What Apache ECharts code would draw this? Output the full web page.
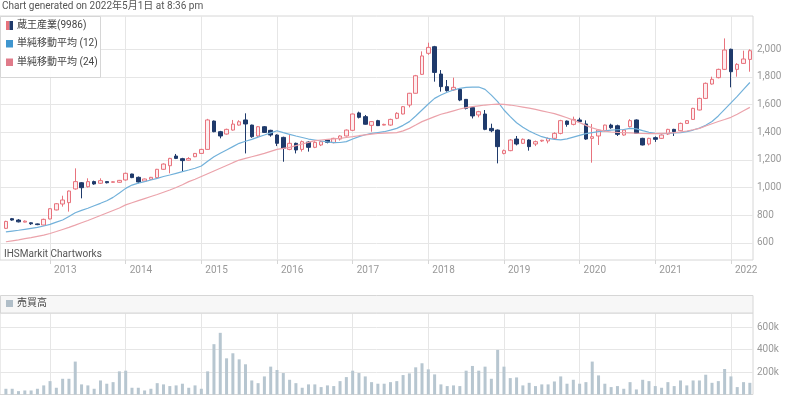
<!DOCTYPE html>
<html><head><meta charset="utf-8">
<script src="https://cdn.jsdelivr.net/npm/echarts@6/dist/echarts.min.js"></script>
<style>html,body{margin:0;padding:0;background:#fff}#c{width:800px;height:396px}</style>
</head><body><div id="c"></div>
<script>
// ---- categories (monthly, 2012/06 .. 2022/04) ----
const startYear = 2012, startMonth = 6, monthCount = 119;
const months = [];
for (let k = 0; k < monthCount; k++) {
  const m = startMonth - 1 + k;
  months.push((startYear + Math.floor(m / 12)) + '/' + String(m % 12 + 1).padStart(2, '0'));
}
const yearLabels = ['2013','2014','2015','2016','2017','2018','2019','2020','2021','2022'];
const priceTicks = [600, 800, 1000, 1200, 1400, 1600, 1800, 2000];
const volumeTicks = [200000, 400000, 600000];

// ---- OHLC ----
const opens = [705,775,765,750,745,737,729,773,838,881,891,990,1035,1006,1043,1031,1043,1038,1038,1055,1098,1074,1047,1060,1072,1132,1158,1228,1209,1198,1223,1247,1276,1481,1404,1387,1416,1452,1489,1452,1373,1440,1414,1380,1363,1276,1320,1276,1329,1291,1308,1344,1325,1351,1373,1414,1540,1513,1450,1484,1452,1452,1501,1532,1597,1682,1819,1971,2019,1821,1730,1706,1710,1638,1578,1525,1532,1428,1416,1247,1267,1351,1320,1344,1315,1337,1337,1356,1392,1481,1457,1489,1460,1356,1373,1411,1452,1447,1380,1440,1489,1356,1315,1361,1356,1387,1421,1411,1464,1493,1561,1645,1749,1795,1855,2000,1855,1898,1927];
const closes = [755,765,752,757,738,732,770,847,883,910,975,1043,999,1043,1026,1050,1035,1042,1052,1103,1072,1040,1062,1074,1132,1170,1211,1211,1195,1210,1247,1276,1489,1404,1373,1421,1459,1476,1460,1368,1440,1399,1380,1320,1284,1320,1272,1332,1291,1327,1332,1327,1356,1373,1416,1532,1508,1458,1477,1448,1457,1493,1537,1585,1682,1809,1952,2014,1833,1730,1701,1725,1633,1573,1518,1549,1421,1411,1296,1267,1344,1315,1349,1296,1332,1342,1356,1392,1484,1457,1493,1477,1351,1368,1416,1452,1433,1385,1416,1484,1392,1308,1356,1349,1380,1421,1404,1464,1484,1573,1645,1754,1783,1855,1995,1838,1891,1930,1990];
const lows = [700,760,748,748,730,728,726,770,835,862,826,985,922,1000,1020,1026,1030,1036,1035,1050,1068,1031,1043,1057,1070,1128,1103,1206,1115,1195,1220,1243,1274,1400,1356,1383,1412,1448,1247,1360,1358,1395,1368,1300,1187,1270,1247,1260,1260,1285,1300,1320,1320,1340,1370,1409,1500,1455,1404,1445,1450,1447,1495,1530,1580,1680,1815,1960,1766,1694,1694,1700,1625,1565,1500,1508,1415,1400,1175,1240,1263,1305,1315,1267,1300,1330,1320,1350,1385,1440,1450,1470,1345,1180,1308,1405,1425,1373,1375,1435,1390,1305,1305,1330,1352,1380,1373,1408,1460,1490,1558,1640,1745,1790,1850,1725,1802,1895,1838];
const highs = [760,780,772,762,748,740,775,850,888,941,978,1139,1040,1067,1050,1067,1045,1045,1055,1108,1100,1080,1065,1077,1135,1175,1215,1243,1215,1220,1250,1280,1497,1485,1410,1426,1489,1487,1537,1455,1445,1445,1418,1385,1368,1380,1325,1340,1335,1335,1340,1350,1360,1378,1420,1535,1549,1525,1480,1490,1462,1498,1545,1590,1685,1815,1985,2048,2025,1850,1778,1795,1715,1640,1580,1555,1561,1462,1420,1275,1350,1373,1355,1349,1340,1345,1362,1400,1490,1485,1513,1505,1486,1460,1420,1455,1462,1455,1420,1495,1493,1360,1360,1370,1385,1425,1425,1470,1488,1577,1650,1760,1802,1860,2079,2005,1900,1990,2000];

// ---- moving averages ----
const ma12 = [679,685,691,698,705,712,722,734,750,765,790,818,835,850,868,886,905,929,960,994,1018,1032,1043,1055,1067,1080,1091,1103,1115,1127,1140,1156,1190,1223,1248,1272,1296,1320,1335,1349,1365,1380,1396,1411,1397,1385,1373,1362,1351,1344,1337,1330,1325,1326,1332,1351,1368,1382,1392,1398,1404,1415,1428,1450,1477,1518,1561,1604,1645,1669,1689,1706,1718,1725,1727,1727,1710,1669,1621,1561,1513,1469,1436,1409,1387,1368,1356,1349,1345,1352,1365,1378,1390,1398,1404,1410,1415,1418,1420,1428,1425,1412,1400,1392,1390,1392,1395,1398,1405,1416,1430,1450,1478,1518,1565,1612,1660,1710,1760];
const ma24 = [608,615,622,630,638,647,656,668,682,697,712,728,745,762,780,798,816,834,852,875,890,905,920,935,950,966,982,1000,1020,1043,1060,1080,1100,1120,1140,1160,1180,1199,1211,1223,1235,1247,1262,1276,1284,1291,1303,1315,1327,1339,1344,1349,1352,1356,1362,1368,1375,1381,1387,1391,1394,1396,1397,1410,1428,1452,1477,1495,1513,1530,1542,1555,1568,1578,1585,1591,1597,1601,1604,1602,1597,1590,1582,1574,1565,1555,1545,1535,1520,1505,1488,1470,1450,1432,1418,1408,1402,1399,1397,1395,1393,1391,1390,1390,1392,1394,1397,1402,1409,1418,1428,1445,1462,1478,1492,1508,1530,1555,1580];

// ---- volume ----
const volumes = [51000,51000,30000,36000,36000,51000,81000,119000,60000,140000,140000,293000,90000,81000,51000,125000,96000,110000,206000,212000,60000,60000,36000,51000,101000,90000,75000,81000,96000,60000,81000,51000,206000,448000,549000,322000,367000,313000,269000,125000,101000,161000,248000,218000,191000,131000,101000,60000,90000,90000,66000,81000,75000,119000,155000,212000,191000,161000,110000,96000,96000,110000,119000,173000,188000,242000,278000,224000,179000,90000,75000,81000,75000,212000,254000,212000,248000,140000,397000,248000,146000,152000,81000,104000,75000,90000,90000,116000,161000,96000,131000,96000,110000,293000,170000,96000,66000,75000,51000,110000,45000,131000,119000,75000,60000,110000,75000,125000,81000,125000,125000,176000,104000,119000,227000,161000,66000,110000,104000];

const yearIdx = yearLabels.map(y => months.indexOf(y + '/01'));
const candleData = months.map((m, i) => [i, opens[i], closes[i], lows[i], highs[i]]);
const ma12Data = months.map((m, i) => [i, ma12[i]]);
const ma24Data = months.map((m, i) => [i, ma24[i]]);
const volData = months.map((m, i) => [i, volumes[i]]);

const FONT = 'Roboto, "Noto Sans CJK JP", sans-serif';
const GRID_LINE = '#e6e6e6';
const BORDER = '#d6d6d6';
const xMin = -0.936, xMax = monthCount - 0.5;

const chart = echarts.init(document.getElementById('c'), null, {renderer: 'canvas'});
chart.setOption({
  animation: false,
  backgroundColor: '#fff',
  textStyle: {fontFamily: FONT},
  grid: [
    {left: 0, top: 16, width: 753, height: 244, show: true, borderColor: BORDER, borderWidth: 1, containLabel: false},
    {left: 0, top: 313, width: 753, height: 81.5, show: true, borderColor: BORDER, borderWidth: 1, containLabel: false}
  ],
  xAxis: [
    {type: 'value', gridIndex: 0, min: xMin, max: xMax,
      axisLine: {show: false},
      axisTick: {show: true, customValues: yearIdx, length: 4, lineStyle: {color: BORDER}},
      splitLine: {show: true, lineStyle: {color: GRID_LINE}},
      axisLabel: {customValues: yearIdx, formatter: v => yearLabels[yearIdx.indexOf(Math.round(v))] || '',
        color: '#999', fontSize: 10, fontFamily: FONT, align: 'left', padding: [0, 0, 0, 4], margin: 5}},
    {type: 'value', gridIndex: 1, min: xMin, max: xMax,
      axisLine: {show: false},
      axisTick: {show: false, customValues: yearIdx},
      splitLine: {show: true, lineStyle: {color: GRID_LINE}},
      axisLabel: {show: false, customValues: yearIdx}}
  ],
  yAxis: [
    {type: 'value', gridIndex: 0, position: 'right', min: 476, max: 2241,
      axisLine: {show: false},
      axisTick: {show: false, customValues: priceTicks},
      splitLine: {show: true, lineStyle: {color: GRID_LINE}},
      axisLabel: {customValues: priceTicks, color: '#999', fontSize: 10, fontFamily: FONT, margin: 4,
        formatter: v => v.toLocaleString('en-US')}},
    {type: 'value', gridIndex: 1, position: 'right', min: 0, max: 725500,
      axisLine: {show: false},
      axisTick: {show: false, customValues: volumeTicks},
      splitLine: {show: true, lineStyle: {color: GRID_LINE}},
      axisLabel: {customValues: volumeTicks, color: '#999', fontSize: 10, fontFamily: FONT, margin: 4,
        formatter: v => (v / 1000) + 'k'}}
  ],
  series: [
    {type: 'candlestick', name: '蔵王産業(9986)', xAxisIndex: 0, yAxisIndex: 0, data: candleData, barWidth: 4,
      itemStyle: {color: '#fdeef0', color0: '#1f3a6b', borderColor: '#e8737d', borderColor0: '#1f3a6b', borderWidth: 1}},
    {type: 'line', name: '単純移動平均 (12)', xAxisIndex: 0, yAxisIndex: 0, data: ma12Data, showSymbol: false,
      lineStyle: {color: '#72b1da', width: 1.2}},
    {type: 'line', name: '単純移動平均 (24)', xAxisIndex: 0, yAxisIndex: 0, data: ma24Data, showSymbol: false,
      lineStyle: {color: '#eba3ab', width: 1.2}},
    {type: 'bar', name: '売買高', xAxisIndex: 1, yAxisIndex: 1, data: volData, barWidth: 3,
      itemStyle: {color: '#b7c6d0'}}
  ],
  graphic: [
    {type: 'text', left: 2, top: 1.5, z: 100, style: {text: 'Chart generated on 2022年5月1日 at 8:36 pm', fill: '#555', font: '10px ' + FONT}},
    {type: 'rect', z: 100, shape: {x: 0.5, y: 16.5, width: 100, height: 61}, style: {fill: 'rgba(255,255,255,0.92)', stroke: BORDER, lineWidth: 1}},
    {type: 'rect', z: 101, shape: {x: 6, y: 21, width: 3.5, height: 9}, style: {fill: '#e8737d'}},
    {type: 'rect', z: 101, shape: {x: 9.5, y: 21, width: 3.5, height: 9}, style: {fill: '#1f3a6b'}},
    {type: 'text', z: 101, x: 17, y: 25.5, style: {text: '蔵王産業(9986)', fill: '#444', font: '10px ' + FONT, verticalAlign: 'middle'}},
    {type: 'rect', z: 101, shape: {x: 6, y: 40, width: 7, height: 7.5}, style: {fill: '#3f96cf'}},
    {type: 'text', z: 101, x: 17, y: 43.5, style: {text: '単純移動平均 (12)', fill: '#444', font: '10px ' + FONT, verticalAlign: 'middle'}},
    {type: 'rect', z: 101, shape: {x: 6, y: 58.5, width: 7, height: 7.5}, style: {fill: '#e07b8a'}},
    {type: 'text', z: 101, x: 17, y: 62, style: {text: '単純移動平均 (24)', fill: '#444', font: '10px ' + FONT, verticalAlign: 'middle'}},
    {type: 'text', z: 101, x: 4, y: 254.5, style: {text: 'IHSMarkit Chartworks', fill: '#555', font: '10px ' + FONT, verticalAlign: 'middle'}},
    {type: 'rect', z: 100, shape: {x: 0.5, y: 295.5, width: 752.5, height: 17.5}, style: {fill: '#f7f7f7', stroke: BORDER, lineWidth: 1}},
    {type: 'rect', z: 101, shape: {x: 6, y: 300, width: 7, height: 7}, style: {fill: '#b0bec8'}},
    {type: 'text', z: 101, x: 17, y: 303.5, style: {text: '売買高', fill: '#444', font: '10px ' + FONT, verticalAlign: 'middle'}}
  ]
});
</script></body></html>
